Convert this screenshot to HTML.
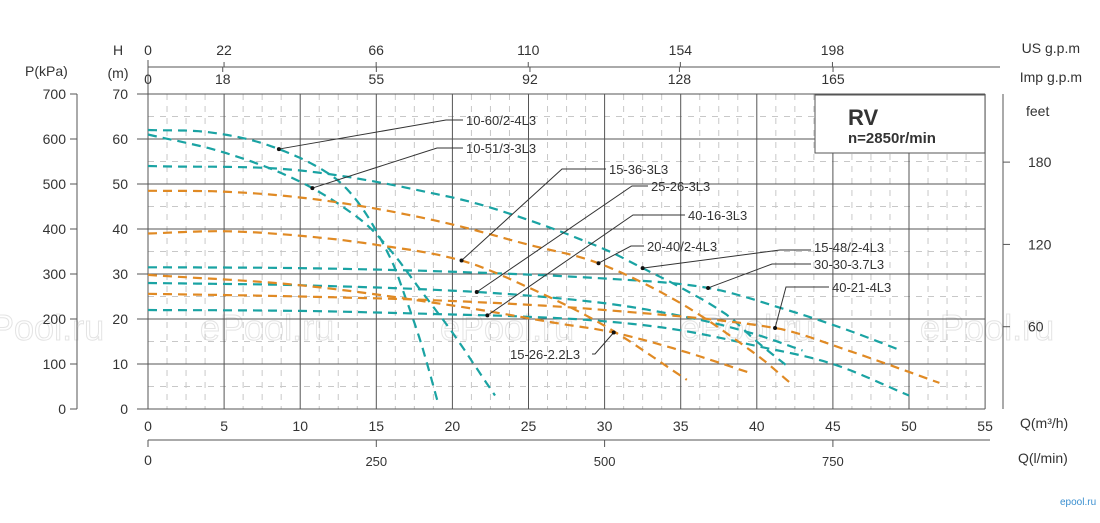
<!DOCTYPE html>
<html><head><meta charset="utf-8"><style>
html,body{margin:0;padding:0;background:#fff;}
svg{display:block;font-family:"Liberation Sans",Arial,sans-serif;}
</style></head><body>
<svg id="chart" width="1100" height="523" viewBox="0 0 1100 523">
<g id="wm" fill="none" stroke="#e4e4e4" stroke-width="1" font-size="36">
<text x="-30" y="340">ePool.ru</text><text x="200" y="340">ePool.ru</text><text x="440" y="340">ePool.ru</text><text x="680" y="340">ePool.ru</text><text x="920" y="340">ePool.ru</text>
</g>
<g id="grid"></g>
<g id="axes"></g>
<g id="curves"></g>
<g id="labels"></g>
<g>
<rect x="815" y="95" width="170" height="58" fill="#fff" stroke="#555" stroke-width="1"/>
<text x="848" y="125" font-size="22" font-weight="bold" fill="#333">RV</text>
<text x="848" y="143" font-size="15" font-weight="bold" fill="#333">n=2850r/min</text>
</g>
<text x="1060" y="505" font-size="10" fill="#3a8fd0">epool.ru</text>
</svg>
<script>
const qTicks=[0,5,10,15,20,25,30,35,40,45,50,55];
const hTicks=[0,10,20,30,40,50,60,70];
const pTicks=[0,100,200,300,400,500,600,700];
const feetTicks=[60,120,180];
const usTicks=[0,22,66,110,154,198];
const impTicks=[0,18,55,92,128,165];
const lminTicks=[0,250,500,750];
const seriesNames=["10-60/2-4L3","10-51/3-3L3","15-48/2-4L3","30-30-3.7L3","25-26-3L3","40-16-3L3","20-40/2-4L3","15-36-3L3","15-26-2.2L3","40-21-4L3"];
const seriesColors=["t","t","t","t","t","t","o","o","o","o"];
const q_1060=[0,4,8,12,14,16,17,18,19];
const h_1060=[62,61.5,58.5,52,45,33,24,14,2];
const q_1051=[0,5,10,14,16,18,20,22,22.8];
const h_1051=[61,57,50.5,42,35,26,17,7,3];
const q_1548=[0,10,20,25,30,32.5,35,38,40,42.2];
const h_1548=[54,53,47,42,35.5,31.3,27,21,15,9];
const q_3030=[0,10,20,30,36.8,42,46,49.4];
const h_3030=[31.5,31.3,30.5,29,26.9,22,17.5,13.1];
const q_2526=[0,10,21.6,30,36,40,43];
const h_2526=[28,27.5,26,23.5,20,16.5,13];
const q_4016=[0,10,20,25,30,35,40,45,50];
const h_4016=[22,21.8,21,20.5,19.5,17.5,14,10,3];
const q_2040=[0,5,10,15,20,25,29.6,35,40,42.3];
const h_2040=[48.5,48.3,47,44.5,41,36.5,32.4,23.5,12,5.5];
const q_1536=[0,5,10,15,20.6,25,30,35.4];
const h_1536=[39,39.5,38.5,36.5,33,27,18.5,6.5];
const q_1526=[0,10,20,27,30.6,35,39.4];
const h_1526=[29.8,27.5,23,19,17,13,8.2];
const q_4021=[0,10,20,30,41.2,46,52];
const h_4021=[25.6,25,24,22,18,13,5.8];
const seriesQ=[q_1060,q_1051,q_1548,q_3030,q_2526,q_4016,q_2040,q_1536,q_1526,q_4021];
const seriesH=[h_1060,h_1051,h_1548,h_3030,h_2526,h_4016,h_2040,h_1536,h_1526,h_4021];
const markerQ=[8.6,10.8,32.5,36.8,21.6,22.3,29.6,20.6,30.6,41.2];

const X=q=>148+q*15.22;
const Y=h=>409-h*4.5;
const NS="http://www.w3.org/2000/svg";
function mk(tag,attrs,parent){const e=document.createElementNS(NS,tag);for(const k in attrs)e.setAttribute(k,attrs[k]);parent.appendChild(e);return e;}
function interp(qs,hs,q){const n=qs.length;
for(let i=0;i<n-1;i++){if(q>=qs[i]&&q<=qs[i+1]){const h=qs[i+1]-qs[i],t=(q-qs[i])/h;
const m0=i>0?(hs[i+1]-hs[i-1])/(qs[i+1]-qs[i-1]):(hs[1]-hs[0])/(qs[1]-qs[0]);
const m1=i<n-2?(hs[i+2]-hs[i])/(qs[i+2]-qs[i]):(hs[n-1]-hs[n-2])/(qs[n-1]-qs[n-2]);
const t2=t*t,t3=t2*t;
return (2*t3-3*t2+1)*hs[i]+(t3-2*t2+t)*h*m0+(-2*t3+3*t2)*hs[i+1]+(t3-t2)*h*m1;}}
return hs[n-1];}
const grid=document.getElementById('grid'),axes=document.getElementById('axes'),curves=document.getElementById('curves'),labels=document.getElementById('labels');
for(let q=0;q<55;q+=1.25){if(q%5===0)continue;const l=mk('line',{x1:X(q),x2:X(q),y1:Y(70),y2:Y(0),stroke:'#c8c8c8','stroke-dasharray':'6,6','stroke-width':1},grid);

}
for(let h=5;h<70;h+=10){const l=mk('line',{x1:X(0),x2:X(55),y1:Y(h),y2:Y(h),stroke:'#c8c8c8','stroke-dasharray':'6,6','stroke-width':1},grid);

}
qTicks.forEach(q=>{const l=mk('line',{x1:X(q),x2:X(q),y1:Y(70),y2:Y(0),stroke:'#555','stroke-width':1},grid);


const t=mk('text',{x:X(q),y:431,'font-size':14,'text-anchor':'middle',fill:'#333'},axes);t.textContent=q;

});
hTicks.forEach(h=>{const l=mk('line',{x1:137,x2:X(55),y1:Y(h),y2:Y(h),stroke:'#555','stroke-width':1},grid);


const t=mk('text',{x:128,y:Y(h)+5,'font-size':14,'text-anchor':'end',fill:'#333'},axes);t.textContent=h;

});
mk('line',{x1:77,x2:77,y1:Y(70),y2:Y(0),stroke:'#555'},axes);
pTicks.forEach(p=>{const y=Y(p/10);mk('line',{x1:70,x2:77,y1:y,y2:y,stroke:'#555'},axes);
const t=mk('text',{x:66,y:y+5,'font-size':14,'text-anchor':'end',fill:'#333'},axes);t.textContent=p;

});
mk('line',{x1:1003,x2:1003,y1:Y(70),y2:Y(0),stroke:'#555'},axes);
feetTicks.forEach(f=>{const y=Y(f*0.3048);mk('line',{x1:1003,x2:1010,y1:y,y2:y,stroke:'#555'},axes);
const t=mk('text',{x:1028,y:y+5,'font-size':14,fill:'#333'},axes);t.textContent=f;

});
mk('line',{x1:148,x2:1000,y1:67,y2:67,stroke:'#555'},axes);
mk('line',{x1:148,x2:148,y1:60,y2:94,stroke:'#555'},axes);
usTicks.forEach(g=>{const x=X(g/4.4029);mk('line',{x1:x,x2:x,y1:62,y2:67,stroke:'#555'},axes);
const t=mk('text',{x:x,y:55,'font-size':14,'text-anchor':'middle',fill:'#333'},axes);t.textContent=g;

});
impTicks.forEach(g=>{const x=X(g/3.666);mk('line',{x1:x,x2:x,y1:67,y2:72,stroke:'#555'},axes);
const t=mk('text',{x:x,y:84,'font-size':14,'text-anchor':'middle',fill:'#333'},axes);t.textContent=g;

});
mk('line',{x1:148,x2:990,y1:440,y2:440,stroke:'#555'},axes);
lminTicks.forEach(v=>{const x=X(v*0.06);mk('line',{x1:x,x2:x,y1:440,y2:447,stroke:'#555'},axes);
const t=mk('text',{x:x,y:v===0?465:466,'font-size':v===0?14:13,'text-anchor':'middle',fill:'#333'},axes);t.textContent=v;

});
[["P(kPa)",25,76,'start'],["H",118,55,'middle'],["(m)",118,78,'middle'],["US g.p.m",1080,53,'end'],["Imp g.p.m",1082,82,'end'],["feet",1026,116,'start'],["Q(m³/h)",1020,428,'start'],["Q(l/min)",1018,463,'start']].forEach(a=>{const t=mk('text',{x:a[1],y:a[2],'font-size':14,'text-anchor':a[3],fill:'#333'},axes);t.textContent=a[0];

});
seriesQ.forEach((qs,i)=>{let d='';const n=80;const q0=qs[0],q1=qs[qs.length-1];
for(let k=0;k<=n;k++){const q=q0+(q1-q0)*k/n;d+=(k?'L':'M')+X(q).toFixed(1)+','+Y(interp(qs,seriesH[i],q)).toFixed(1);}
const p=mk('path',{d:d,fill:'none',stroke:seriesColors[i]==='t'?'#1aa3a3':'#e08a24','stroke-width':2.2,'stroke-dasharray':'9,6'},curves);

});
const lab=[[0,446,120,466,125],[1,437,148,466,153],[7,562,169,609,174],[4,632,186,651,191],[5,633,215,688,220],[6,631,246,647,251],[2,780,250,814,252],[3,772,264,814,269],[9,786,287,832,292],[8,595,354,510,359]];
lab.forEach(a=>{const i=a[0];const mq=markerQ[i];const mx=X(mq),my=Y(interp(seriesQ[i],seriesH[i],mq));
const tx=a[3],ty=a[4];const endx=i===8?592:tx-3;
mk('polyline',{points:`${mx},${my} ${a[1]},${a[2]} ${endx},${a[2]}`,fill:'none',stroke:'#333','stroke-width':1},labels);
mk('circle',{cx:mx,cy:my,r:2,fill:'#111'},labels);
const t=mk('text',{x:tx,y:ty,'font-size':13,fill:'#333'},labels);t.textContent=seriesNames[i];

});
</script>
</body></html>
